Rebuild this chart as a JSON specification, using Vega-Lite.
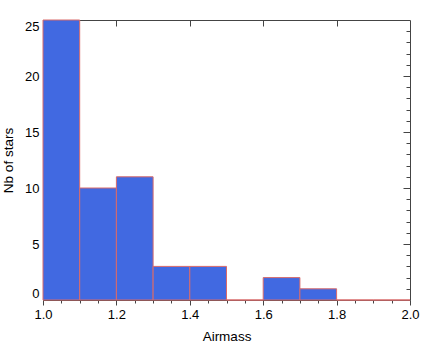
{
  "$schema": "https://vega.github.io/schema/vega-lite/v6.json",
  "autosize": "none",
  "width": 367,
  "height": 280,
  "padding": {"left": 43, "top": 20, "right": 26, "bottom": 49},
  "background": "white",
  "config": {
    "view": {"stroke": null},
    "font": "Liberation Sans",
    "axis": {
      "labelFont": "Liberation Sans",
      "titleFont": "Liberation Sans",
      "labelFontSize": 13,
      "titleFontSize": 13.5,
      "titleFontWeight": "normal",
      "labelColor": "black",
      "titleColor": "black",
      "domainColor": "#444",
      "tickColor": "#444",
      "grid": false
    }
  },
  "data": {
    "values": [
      {"bin_start": 1.0, "bin_end": 1.1, "count": 25},
      {"bin_start": 1.1, "bin_end": 1.2, "count": 10},
      {"bin_start": 1.2, "bin_end": 1.3, "count": 11},
      {"bin_start": 1.3, "bin_end": 1.4, "count": 3},
      {"bin_start": 1.4, "bin_end": 1.5, "count": 3},
      {"bin_start": 1.5, "bin_end": 1.6, "count": 0},
      {"bin_start": 1.6, "bin_end": 1.7, "count": 2},
      {"bin_start": 1.7, "bin_end": 1.8, "count": 1},
      {"bin_start": 1.8, "bin_end": 1.9, "count": 0},
      {"bin_start": 1.9, "bin_end": 2.0, "count": 0}
    ]
  },
  "resolve": {"axis": {"x": "independent", "y": "independent"}},
  "layer": [
    {
      "mark": {"type": "bar", "fill": "#4169E1", "stroke": "#d96a6a", "strokeWidth": 1},
      "encoding": {
        "x": {
          "field": "bin_start", "type": "quantitative",
          "scale": {"domain": [1, 2], "nice": false, "zero": false},
          "axis": {"orient": "bottom", "values": [1, 1.2, 1.4, 1.6, 1.8, 2.0], "format": ".1f", "tickSize": 5, "labelPadding": 3, "labelFlush": false, "title": "Airmass", "titlePadding": 8, "domain": true}
        },
        "x2": {"field": "bin_end"},
        "y": {
          "field": "count", "type": "quantitative",
          "scale": {"domain": [0, 25], "nice": false},
          "axis": {"orient": "left", "values": [0, 5, 10, 15, 20, 25], "ticks": false, "labelPadding": 4, "labelFlush": true, "title": "Nb of stars", "titlePadding": 9, "domain": true}
        },
        "y2": {"datum": 0}
      }
    },
    {
      "mark": {"type": "bar", "opacity": 0},
      "encoding": {
        "x": {
          "field": "bin_start", "type": "quantitative",
          "axis": {"orient": "bottom", "values": [1.05, 1.1, 1.15, 1.25, 1.3, 1.35, 1.45, 1.5, 1.55, 1.65, 1.7, 1.75, 1.85, 1.9, 1.95], "tickSize": 3, "labels": false, "domain": false, "title": null}
        },
        "x2": {"field": "bin_end"},
        "y": {
          "field": "count", "type": "quantitative",
          "axis": {"orient": "right", "values": [1,2,3,4,6,7,8,9,11,12,13,14,16,17,18,19,21,22,23,24], "tickSize": -4, "labels": false, "domain": true, "title": null}
        },
        "y2": {"datum": 0}
      }
    },
    {
      "mark": {"type": "bar", "opacity": 0},
      "encoding": {
        "x": {
          "field": "bin_start", "type": "quantitative",
          "axis": {"orient": "top", "values": [1.2, 1.4, 1.6, 1.8], "tickSize": -6, "labels": false, "domain": true, "title": null}
        },
        "x2": {"field": "bin_end"},
        "y": {
          "field": "count", "type": "quantitative",
          "axis": {"orient": "left", "values": [5, 10, 15, 20], "tickSize": -7, "labels": false, "domain": false, "title": null}
        },
        "y2": {"datum": 0}
      }
    },
    {
      "mark": {"type": "bar", "opacity": 0},
      "encoding": {
        "x": {"field": "bin_start", "type": "quantitative", "axis": null},
        "x2": {"field": "bin_end"},
        "y": {
          "field": "count", "type": "quantitative",
          "axis": {"orient": "right", "values": [5, 10, 15, 20], "tickSize": -7, "labels": false, "domain": false, "title": null}
        },
        "y2": {"datum": 0}
      }
    }
  ]
}
